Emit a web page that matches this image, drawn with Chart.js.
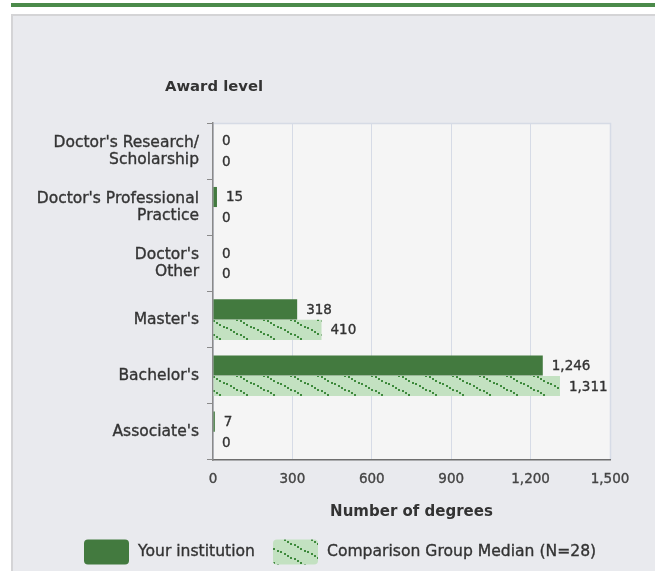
<!DOCTYPE html>
<html>
<head>
<meta charset="utf-8">
<script src="https://cdn.jsdelivr.net/npm/chart.js@4"></script>
<style>
  html, body { margin:0; padding:0; background:#ffffff; }
  body { width:655px; height:571px; position:relative; overflow:hidden; }
  #stripe { position:absolute; left:11px; top:3px; width:644px; height:4px; background:#4b8a4a; }
  #panel { position:absolute; left:11px; top:14px; right:0; bottom:0; background:#e9eaee;
           border-left:2px solid #d4d4d6; border-top:2px solid #d4d4d6; }
  #wrap { position:absolute; left:0; top:0; width:655px; height:571px; }
</style>
</head>
<body>
<div id="stripe"></div>
<div id="panel"></div>
<div id="wrap"><canvas id="c" width="655" height="571"></canvas></div>
<script>
const categories = [
  ["Doctor's Research/", "Scholarship"],
  ["Doctor's Professional", "Practice"],
  ["Doctor's", "Other"],
  ["Master's"],
  ["Bachelor's"],
  ["Associate's"]
];
const seriesNames = ["Your institution", "Comparison Group Median (N=28)"];
const yourInstitution = [0, 15, 0, 318, 1246, 7];
const comparisonMedian = [0, 0, 0, 410, 1311, 0];
const xTicks = [0, 300, 600, 900, 1200, 1500];
const yTitle = "Award level";
const xTitle = "Number of degrees";

const DARK = '#437a3f';
const LIGHT = '#c3e1c1';
const DOT = '#3f8a3d';
const TEXT = '#333333';
const FONT = "'DejaVu Sans', sans-serif";

function makePattern() {
  const W = 27, H = 14;
  const cv = document.createElement('canvas');
  cv.width = W; cv.height = H;
  const g = cv.getContext('2d');
  g.fillStyle = LIGHT;
  g.fillRect(0, 0, W, H);
  g.fillStyle = DOT;
  const n = 8;
  for (let i = 0; i < n; i++) {
    const t = i / n;
    g.fillRect(Math.round(t * W), Math.round(t * H), 2, 2);
  }
  const ctx = document.getElementById('c').getContext('2d');
  return ctx.createPattern(cv, 'repeat');
}
const hatch = makePattern();

const plotBg = {
  id: 'plotBg',
  beforeDraw(chart) {
    const {ctx, chartArea: a} = chart;
    ctx.save();
    ctx.fillStyle = '#f5f5f5';
    ctx.fillRect(a.left, a.top, a.right - a.left, a.bottom - a.top);
    ctx.strokeStyle = '#d6dbe5';
    ctx.lineWidth = 1.5;
    ctx.beginPath();
    ctx.moveTo(a.left, a.top + 0.5);
    ctx.lineTo(a.right + 0.5, a.top + 0.5);
    ctx.lineTo(a.right + 0.5, a.bottom);
    ctx.stroke();
    ctx.restore();
  }
};

function boldText(ctx, text, x, y) {
  ctx.fillText(text, x, y);
  ctx.strokeText(text, x, y);
}

const valueLabels = {
  id: 'valueLabels',
  afterDatasetsDraw(chart) {
    const {ctx} = chart;
    ctx.save();
    ctx.font = "13.5px " + FONT;
    ctx.fillStyle = TEXT;
    ctx.strokeStyle = TEXT;
    ctx.lineWidth = 0.35;
    ctx.textAlign = 'left';
    ctx.textBaseline = 'middle';
    chart.data.datasets.forEach((ds, di) => {
      const meta = chart.getDatasetMeta(di);
      meta.data.forEach((el, i) => {
        const v = ds.data[i];
        boldText(ctx, v.toLocaleString('en-US'), el.x + 9, el.y + 1);
      });
    });
    ctx.restore();
  }
};

const extras = {
  id: 'extras',
  afterDraw(chart) {
    const {ctx, chartArea: a} = chart;
    ctx.save();
    ctx.font = "bold 14.8px " + FONT;
    ctx.fillStyle = TEXT;
    ctx.textAlign = 'center';
    ctx.textBaseline = 'middle';
    ctx.fillText(yTitle, a.left + 1, 87);
    const items = [
      {x: 84, fill: DARK, text: seriesNames[0]},
      {x: 273, fill: hatch, text: seriesNames[1]}
    ];
    ctx.font = "15.6px " + FONT;
    ctx.textAlign = 'left';
    ctx.lineWidth = 0.35;
    ctx.strokeStyle = TEXT;
    items.forEach(it => {
      ctx.fillStyle = it.fill;
      ctx.beginPath();
      ctx.roundRect(it.x, 539.5, 45, 25, 4);
      ctx.fill();
      ctx.fillStyle = TEXT;
      boldText(ctx, it.text, it.x + 54, 552);
    });
    ctx.restore();
  }
};

new Chart(document.getElementById('c'), {
  type: 'bar',
  data: {
    labels: categories,
    datasets: [
      { label: seriesNames[0], data: yourInstitution, backgroundColor: DARK,
        categoryPercentage: 0.73, barPercentage: 0.98 },
      { label: seriesNames[1], data: comparisonMedian, backgroundColor: hatch,
        categoryPercentage: 0.73, barPercentage: 0.98 }
    ]
  },
  options: {
    indexAxis: 'y',
    responsive: false,
    animation: false,
    layout: { padding: { top: 123, right: 45, left: 0, bottom: 0 } },
    plugins: { legend: { display: false }, tooltip: { enabled: false } },
    scales: {
      x: {
        min: 0, max: 1500,
        afterBuildTicks(scale) { scale.ticks = xTicks.map(v => ({value: v})); },
        afterFit(scale) { scale.height = 111; },
        grid: { color: '#d6dbe6', drawTicks: false, lineWidth: 1 },
        border: { color: '#6e6e6e', width: 1.5 },
        ticks: {
          padding: 11,
          color: '#444444',
          textStrokeColor: '#444444',
          textStrokeWidth: 0.35,
          font: { family: FONT, size: 13.5 },
          callback: v => v.toLocaleString('en-US')
        },
        title: {
          display: true, text: xTitle, color: TEXT,
          font: { family: FONT, size: 15, weight: 'bold', lineHeight: 1.2 },
          padding: { top: 0, bottom: 50 }
        }
      },
      y: {
        afterFit(scale) { scale.width = 213; },
        grid: { drawOnChartArea: false, drawTicks: true, tickLength: 6, color: '#8a8a8a', offset: true },
        border: { color: '#8a8a8a', width: 1.5 },
        ticks: {
          padding: 8,
          color: TEXT,
          textStrokeColor: TEXT,
          textStrokeWidth: 0.35,
          font: { family: FONT, size: 15.5, lineHeight: 1.1 }
        }
      }
    }
  },
  plugins: [plotBg, valueLabels, extras]
});
</script>
</body>
</html>
